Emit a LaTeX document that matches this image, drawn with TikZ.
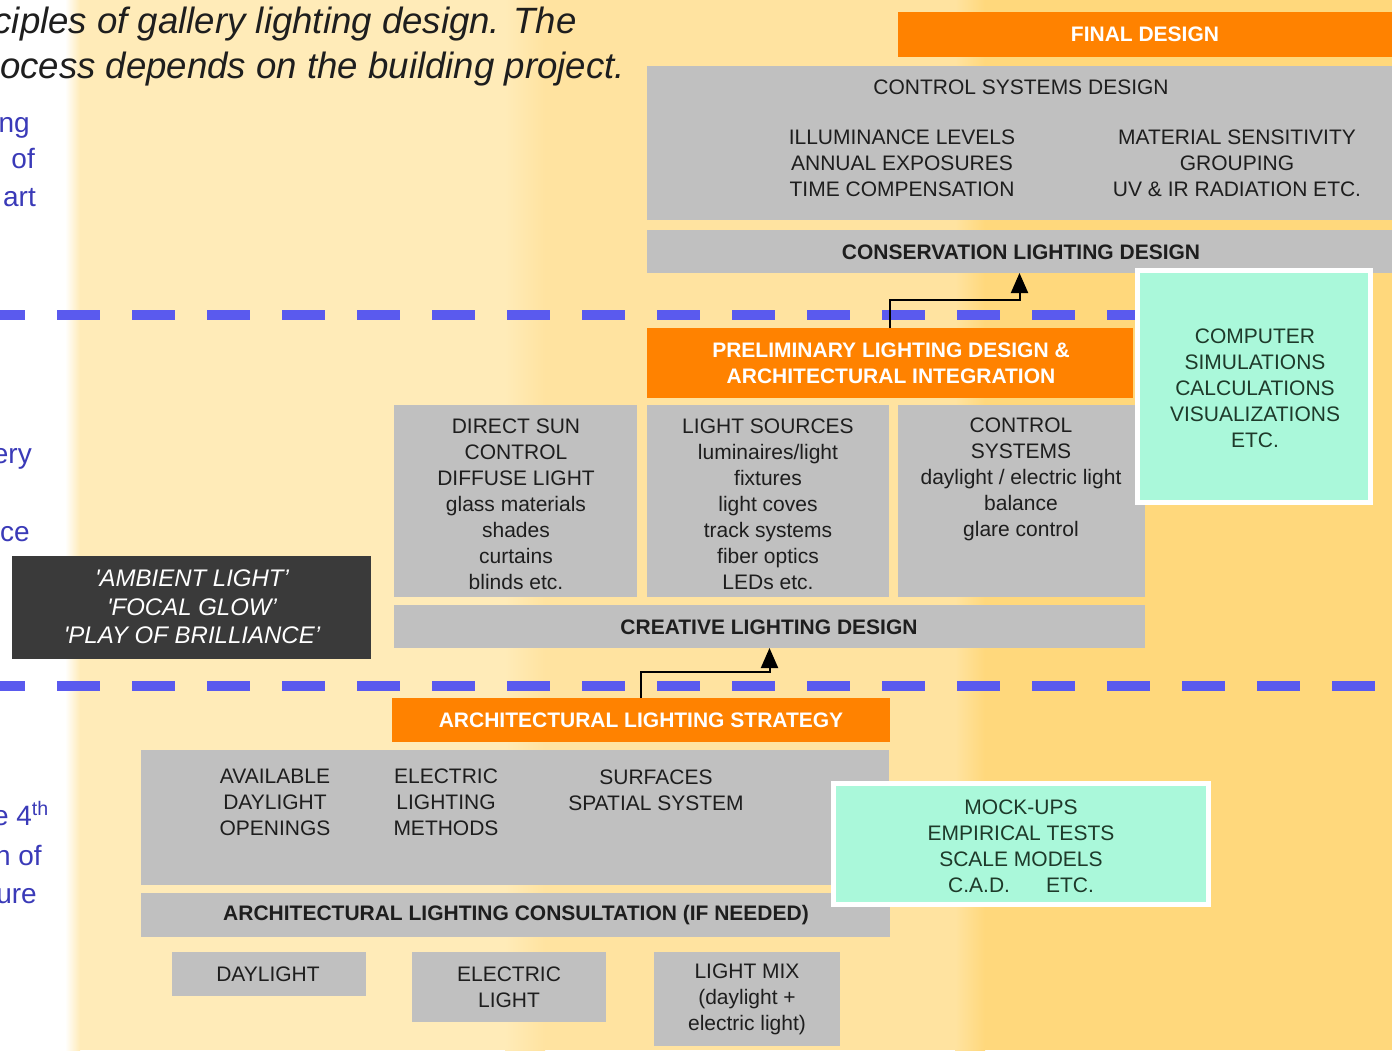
\documentclass[tikz,border=0pt]{standalone}
\usepackage{fontspec}
\setmainfont{Liberation Sans}
\usetikzlibrary{arrows.meta}
\definecolor{bgA}{HTML}{FFEBB8}
\definecolor{bgB}{HTML}{FFE3A0}
\definecolor{bgC}{HTML}{FFD87C}
\definecolor{boxgray}{HTML}{C0C0C0}
\definecolor{orng}{HTML}{FF8200}
\definecolor{mint}{HTML}{AAF8DA}
\definecolor{darkbox}{HTML}{3A3A3A}
\definecolor{txtc}{HTML}{1E1E1E}
\definecolor{minttxt}{HTML}{1E3A2A}
\definecolor{bluec}{HTML}{3A3AB8}
\definecolor{sepc}{HTML}{5A5AEE}
\newcommand\bx[6]{\node[#2, minimum width={(#5-#3)*1pt}, minimum height={(#6-#4)*1pt}, anchor=north west] (#1) at (#3,#4) {};}
\tikzset{
  boxg/.style={fill=boxgray,inner sep=0,outer sep=0},
  boxo/.style={fill=orng,inner sep=0,outer sep=0},
  boxm/.style={fill=mint,draw=white,line width=4.5pt,inner sep=0,outer sep=0},
  boxd/.style={fill=darkbox,inner sep=0,outer sep=0},
  txt/.style={font=\fontsize{21}{26}\selectfont,text=txtc,align=center,inner sep=0},
  btxt/.style={txt,font=\fontsize{21}{26}\selectfont\bfseries},
  wtxt/.style={btxt,text=white},
  mtxt/.style={txt,text=minttxt},
  bluetxt/.style={font=\fontsize{28}{34}\selectfont,text=bluec,inner sep=0,anchor=base east},
  toptxt/.style={font=\fontsize{36.6}{45}\selectfont\itshape,text=txtc,inner sep=0,anchor=base east},
  arr/.style={line width=2pt,draw=black,-{Triangle[width=17pt,length=20pt]}},
  sepline/.style={line width=10pt,draw=sepc,dash pattern=on 43pt off 32pt},
}
\begin{document}
\begin{tikzpicture}[x=1pt,y=-1pt]
\useasboundingbox (0,0) rectangle (1392,1050);
\clip (0,0) rectangle (1392,1050);
% background bands
\fill[white] (0,0) rectangle (1392,1050);
\fill[bgA] (75,0) rectangle (525,1050);
\shade[left color=bgA,right color=bgB] (505,0) rectangle (545,1050);
\fill[bgB] (545,0) rectangle (965,1050);
\shade[left color=bgB,right color=bgC] (955,0) rectangle (985,1050);
\fill[bgC] (985,0) rectangle (1392,1050);
\shade[left color=white,right color=bgA] (65,0) rectangle (80,1050);

% heading fragments
\node[toptxt] (h1) at (577,33) {ciples of gallery lighting design. The};
\node[toptxt] (h2) at (625,78) {ocess depends on the building project.};

% left blue fragments
\node[bluetxt] (b1) at (30,132) {ng};
\node[bluetxt] (b2) at (35,168) {of};
\node[bluetxt] (b3) at (36,206) {art};
\node[bluetxt] (b4) at (32,463) {ery};
\node[bluetxt] (b5) at (30,541) {ce};
\node[bluetxt] (b6) at (49,825) {e 4\textsuperscript{th}};
\node[bluetxt] (b7) at (42,865) {n of};
\node[bluetxt] (b8) at (37,903) {ure};

% dashed separators
\coordinate (s1a) at (-18,315); \coordinate (s1b) at (1136,315);
\coordinate (s2a) at (-18,686); \coordinate (s2b) at (1392,686);
\draw[sepline] (s1a) -- (s1b);
\draw[sepline] (s2a) -- (s2b);

% top section
\bx{final}{boxo}{898}{12}{1392}{57}
\node[wtxt] (finalt) at (final.center) {FINAL DESIGN};
\bx{ctrl}{boxg}{647}{66}{1392}{220}
\node[txt] (ctrlt) at (1021,87) {CONTROL SYSTEMS DESIGN};
\node[txt] (ctrll) at (902,163) {ILLUMINANCE LEVELS\\ANNUAL EXPOSURES\\TIME COMPENSATION};
\node[txt] (ctrlr) at (1237,163) {MATERIAL SENSITIVITY\\GROUPING\\UV \& IR RADIATION ETC.};
\bx{cons}{boxg}{647}{230}{1392}{273}
\node[btxt] (const) at (1021,252) {CONSERVATION LIGHTING DESIGN};

% middle section
\bx{prelim}{boxo}{647}{328}{1133}{398}
\node[wtxt] (prelimt) at (891,363) {PRELIMINARY LIGHTING DESIGN \&\\ARCHITECTURAL INTEGRATION};
\bx{col1}{boxg}{394}{405}{637}{597}
\bx{col2}{boxg}{647}{405}{889}{597}
\bx{col3}{boxg}{898}{405}{1145}{597}
\node[txt] (col1t) at (516,504) {DIRECT SUN\\CONTROL\\DIFFUSE LIGHT\\glass materials\\shades\\curtains\\blinds etc.};
\node[txt] (col2t) at (768,504) {LIGHT SOURCES\\luminaires/light\\fixtures\\light coves\\track systems\\fiber optics\\LEDs etc.};
\node[txt] (col3t) at (1021,479) {CONTROL\\SYSTEMS\\daylight / electric light\\balance\\glare control};
\bx{comp}{boxm}{1137.5}{270.5}{1370.5}{502.5}
\node[mtxt] (compt) at (1255,388) {COMPUTER\\SIMULATIONS\\CALCULATIONS\\VISUALIZATIONS\\ETC.};
\bx{creative}{boxg}{394}{605}{1145}{648}
\node[btxt] (creativet) at (769,627) {CREATIVE LIGHTING DESIGN};
\bx{dark}{boxd}{12}{556}{371}{659}
\node[txt,text=white,font=\fontsize{24}{28.5}\selectfont\itshape] (darkt) at (192,607) {\textquotesingle AMBIENT LIGHT'\\\textquotesingle FOCAL GLOW'\\\textquotesingle PLAY OF BRILLIANCE'};

% bottom section
\bx{strat}{boxo}{392}{698}{890}{742}
\node[wtxt] (stratt) at (641,720) {ARCHITECTURAL LIGHTING STRATEGY};
\bx{arch}{boxg}{141}{750}{889}{885}
\node[txt] (archa) at (275,802) {AVAILABLE\\DAYLIGHT\\OPENINGS};
\node[txt] (archb) at (446,802) {ELECTRIC\\LIGHTING\\METHODS};
\node[txt] (archc) at (656,790) {SURFACES\\SPATIAL SYSTEM};
\bx{consult}{boxg}{141}{893}{890}{937}
\node[btxt] (consultt) at (516,915) {ARCHITECTURAL LIGHTING CONSULTATION (IF NEEDED)};
\bx{mock}{boxm}{833.5}{783.5}{1208.5}{904.5}
\node[mtxt] (mockt) at (1021,846) {MOCK-UPS\\EMPIRICAL TESTS\\SCALE MODELS\\C.A.D.\hspace{36pt}ETC.};
\bx{day}{boxg}{172}{952}{366}{996}
\node[txt] (dayt) at (268,974) {DAYLIGHT};
\bx{elec}{boxg}{412}{952}{606}{1022}
\node[txt] (elect) at (509,987) {ELECTRIC\\LIGHT};
\bx{mix}{boxg}{654}{952}{840}{1046}
\node[txt] (mixt) at (747,999) {LIGHT MIX\\(daylight +\\electric light)};

% connectors
\draw[arr] (prelim.north) -- ++(0,-28) -| (cons.south);
\draw[arr] (strat.north) -- ++(0,-26) -| (creative.south);
\end{tikzpicture}
\end{document}
